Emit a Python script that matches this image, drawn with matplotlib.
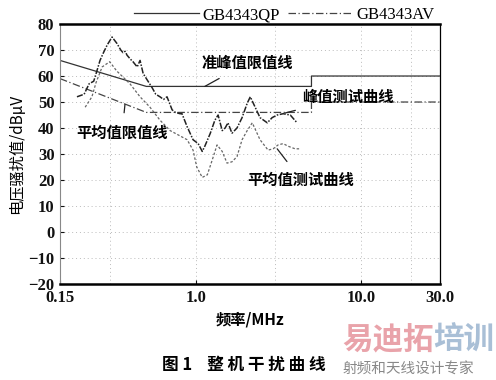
import matplotlib
matplotlib.use("Agg")
import matplotlib.pyplot as plt
from matplotlib.ticker import FixedLocator, FixedFormatter, NullLocator

CJK = ['Noto Sans CJK SC', 'DejaVu Sans']
SERIF = ['Liberation Serif', 'DejaVu Serif']

# Limit lines (GB4343)
qp_f = [0.15, 0.5, 5.0, 5.0, 30.0]
qp_db = [66, 56, 56, 60, 60]
av_f = [0.15, 0.5, 5.0, 5.0, 30.0]
av_db = [59, 46, 46, 50, 50]

# Peak test curve
peak_f = [0.19, 0.21, 0.225, 0.24, 0.251, 0.262, 0.275, 0.29, 0.31, 0.332, 0.35, 0.361,
          0.372, 0.382, 0.40, 0.415, 0.44, 0.458, 0.478, 0.50, 0.542, 0.57, 0.605, 0.635,
          0.667, 0.716, 0.75, 0.80, 0.822, 0.883, 0.959, 1.03, 1.09, 1.13, 1.22, 1.30,
          1.36, 1.44, 1.50, 1.56, 1.65, 1.77, 1.90, 2.04, 2.13, 2.28, 2.44, 2.70, 2.89,
          3.10, 3.37, 3.72, 4.09]
peak_db = [52, 53, 57, 58, 62, 66, 69, 72, 75, 72.5, 70, 69,
           69.5, 68, 66.5, 65.5, 63.5, 66, 61, 59, 55.5, 53, 52, 51,
           52, 47, 46, 45.5, 45.5, 40.5, 35.5, 34, 31, 33, 38, 43,
           45, 39, 40, 42, 38, 40, 44, 49.5, 52, 48, 44, 42, 44,
           45, 45.5, 45, 42]

# Average test curve
avg_f = [0.213, 0.234, 0.248, 0.27, 0.30, 0.33, 0.398, 0.458, 0.526, 0.605, 0.697,
         0.883, 0.959, 1.01, 1.09, 1.17, 1.25, 1.34, 1.44, 1.54, 1.65, 1.77, 1.90,
         2.04, 2.19, 2.44, 2.73, 2.93, 3.14, 3.37, 3.61, 3.98, 4.27]
avg_db = [48, 52, 57.5, 63.5, 65.5, 62, 57, 52, 48, 43, 39,
          35.5, 31.5, 25, 21, 22, 27.5, 33.5, 31, 26.5, 27, 29, 35.5,
          39, 42, 35.5, 31.5, 32, 33.5, 34, 33, 32, 32]

x_ticks = [0.15, 1.0, 10.0, 30.0]
x_ticklabels = ['0.15', '1.0', '10.0', '30.0']
y_ticks = [80, 70, 60, 50, 40, 30, 20, 10, 0, -10, -20]
grid_x = [0.3, 1.0, 3.0, 10.0, 20.0]

fig = plt.figure(figsize=(4.96, 3.8), dpi=100)
ax = fig.add_axes([0.121, 0.2526, 0.766, 0.6842])
ax.set_xscale('log')
ax.set_xlim(0.15, 30)
ax.set_ylim(-20, 80)

for gx in grid_x:
    ax.axvline(gx, color='#bbbbbb', lw=0.7, ls=(0, (1, 3)), zorder=0)
for gy in y_ticks[1:-1]:
    ax.axhline(gy, color='#bbbbbb', lw=0.7, ls=(0, (1, 3)), zorder=0)

l1, = ax.plot(qp_f, qp_db, color='#333333', lw=0.9, label='GB4343QP')
l2, = ax.plot(av_f, av_db, color='#444444', lw=0.9, ls=(0, (6, 2, 1, 2)), label='GB4343AV')
ax.plot(peak_f, peak_db, color='#222222', lw=1.1, ls=(0, (4, 1, 1, 1)))
ax.plot(avg_f, avg_db, color='#666666', lw=0.9, ls=(0, (2, 1.5)))

ax.xaxis.set_major_locator(FixedLocator(x_ticks))
ax.xaxis.set_major_formatter(FixedFormatter(x_ticklabels))
ax.xaxis.set_minor_locator(NullLocator())
ax.set_yticks(y_ticks)
ax.set_yticklabels(['\u221210' if v == -10 else ('\u221220' if v == -20 else str(v)) for v in y_ticks])
for lab in ax.get_xticklabels() + ax.get_yticklabels():
    lab.set_family(SERIF)
    lab.set_fontsize(12)
    lab.set_fontweight('bold')
ax.tick_params(axis='both', direction='in', length=3, width=0.8, pad=4, colors='#111111')

ax.spines['top'].set_linewidth(1.8)
ax.spines['bottom'].set_linewidth(1.8)
ax.spines['left'].set_linewidth(0.8)
ax.spines['left'].set_color('#888888')
ax.spines['right'].set_linewidth(0.9)

leg = fig.legend(handles=[l1, l2], loc='center', bbox_to_anchor=(0.573, 1 - 15 / 380), ncol=2,
                 frameon=False, handlelength=3.9, handletextpad=0.2, columnspacing=0.5,
                 prop={'family': SERIF, 'size': 12}, borderaxespad=0, borderpad=0)

ax.set_xlabel('频率/MHz', family=CJK, fontsize=11, fontweight='bold', labelpad=4)
ax.set_ylabel('电压骚扰值/dBμV', family=CJK, fontsize=11, labelpad=2)

# annotations
ax.annotate('准峰值限值线', xy=(1.13, 56), xytext=(2.04, 65), family=CJK, fontsize=11,
            fontweight='bold', ha='center', va='center',
            arrowprops=dict(arrowstyle='-', color='#222222', lw=0.9, shrinkA=7, shrinkB=0))
ax.annotate('峰值测试曲线', xy=(3.47, 45.8), xytext=(8.35, 52), family=CJK, fontsize=11,
            fontweight='bold', ha='center', va='center',
            arrowprops=dict(arrowstyle='-', color='#222222', lw=0.9, shrinkA=8, shrinkB=0))
ax.annotate('平均值限值线', xy=(0.371, 49), xytext=(0.356, 38), family=CJK, fontsize=11,
            fontweight='bold', ha='center', va='center',
            arrowprops=dict(arrowstyle='-', color='#222222', lw=0.9, shrinkA=7, shrinkB=0))
ax.annotate('平均值测试曲线', xy=(3.1, 32), xytext=(4.33, 20), family=CJK, fontsize=11,
            fontweight='bold', ha='center', va='center',
            arrowprops=dict(arrowstyle='-', color='#222222', lw=0.9, shrinkA=7, shrinkB=0))

fig.text(0.492, 1 - 365 / 380, '图 1    整 机 干 扰 曲 线', family=CJK, fontsize=12,
         fontweight='bold', ha='center', va='center')
fig.text(0.69, 1 - 340 / 380, '易迪拓', family=CJK, fontsize=22, fontweight='bold',
         color='#e9a3aa', ha='left', va='center')
fig.text(0.873, 1 - 340 / 380, '培训', family=CJK, fontsize=22, fontweight='bold',
         color='#a9bfd6', ha='left', va='center')
fig.text(0.69, 1 - 370 / 380, '射频和天线设计专家', family=CJK, fontsize=10.5, color='#888888',
         ha='left', va='center')

fig.savefig('out.png', dpi=100)
